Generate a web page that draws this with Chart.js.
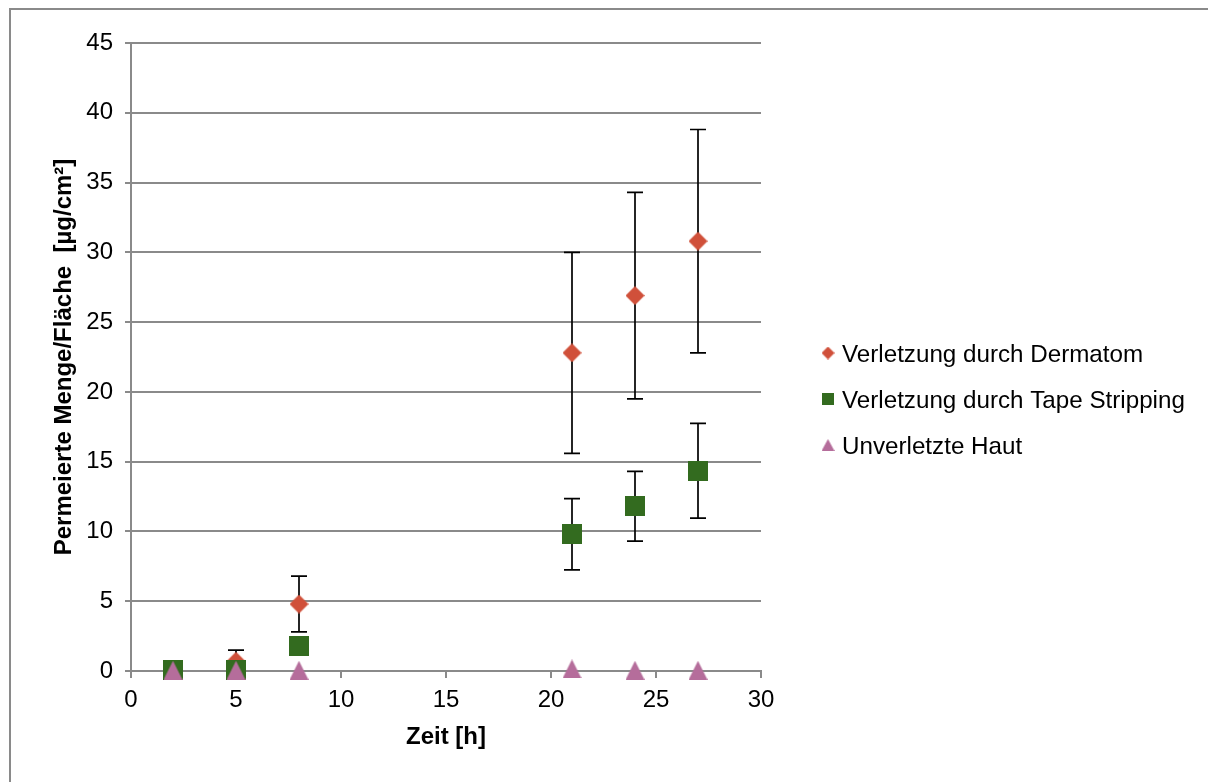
<!DOCTYPE html>
<html>
<head>
<meta charset="utf-8">
<script src="https://cdn.jsdelivr.net/npm/chart.js@4.4.1/dist/chart.umd.min.js"></script>
<style>
  html, body { margin: 0; padding: 0; background: #fff; overflow: hidden; }
  #frame { position: absolute; left: 9px; top: 8px; width: 1300px; height: 900px; border: 2px solid #8a8a8a; }
  #chart { position: absolute; left: 0; top: 0; }
</style>
</head>
<body>
<div id="frame"></div>
<canvas id="chart" width="1208" height="782"></canvas>
<script>
// Zeit in Stunden
const times = [2, 5, 8, 21, 24, 27];

// Mittelwerte und Standardabweichungen [µg/cm²]
const dermatomMean = [0.1, 0.7, 4.8, 22.8, 26.9, 30.8];
const dermatomErr = [0.1, 0.8, 2.0, 7.2, 7.4, 8.0];
const tapeMean = [0.05, 0.1, 1.8, 9.8, 11.8, 14.35];
const tapeErr = [0.05, 0.1, 0.4, 2.55, 2.5, 3.4];
const intactMean = [0.05, 0.05, 0.05, 0.15, 0.05, 0.05];
const intactErr = [0, 0, 0, 0, 0, 0];

const seriesNames = ["Verletzung durch Dermatom", "Verletzung durch Tape Stripping", "Unverletzte Haut"];
const colors = ["#D0503A", "#336B1F", "#B56D9B"];

const FONT = "'Liberation Sans', Arial, sans-serif";
const GRID = "#8a8a8a";

function marker(shape, w, h, color) {
  const c = document.createElement("canvas");
  c.width = w;
  c.height = h;
  const g = c.getContext("2d");
  g.fillStyle = color;
  g.beginPath();
  if (shape === "diamond") {
    g.moveTo(w / 2, 0); g.lineTo(w, h / 2); g.lineTo(w / 2, h); g.lineTo(0, h / 2);
  } else if (shape === "triangle") {
    g.moveTo(w / 2, 0); g.lineTo(w, h); g.lineTo(0, h);
  } else {
    g.rect(0, 0, w, h);
  }
  g.closePath();
  g.fill();
  return c;
}

const pointImgs = [
  marker("diamond", 19, 19, colors[0]),
  marker("square", 20, 20, colors[1]),
  marker("triangle", 19, 19, colors[2])
];
const legendImgs = [
  marker("diamond", 13, 13, colors[0]),
  marker("square", 12, 12, colors[1]),
  marker("triangle", 13, 12, colors[2])
];

const toPoints = (ys) => times.map((t, i) => ({ x: t, y: ys[i] }));
const errors = [dermatomErr, tapeErr, intactErr];

const errorBars = {
  id: "errorBars",
  beforeDatasetsDraw(chart) {
    const ctx = chart.ctx;
    const xs = chart.scales.x, ys = chart.scales.y;
    ctx.save();
    ctx.strokeStyle = "#000";
    ctx.lineWidth = 1.7;
    chart.data.datasets.forEach((ds, d) => {
      ds.data.forEach((p, i) => {
        const e = errors[d][i];
        if (!e) return;
        const x = xs.getPixelForValue(p.x);
        const top = ys.getPixelForValue(p.y + e);
        const bot = ys.getPixelForValue(p.y - e);
        ctx.beginPath();
        ctx.moveTo(x, top); ctx.lineTo(x, bot);
        ctx.moveTo(x - 8, top); ctx.lineTo(x + 8, top);
        ctx.moveTo(x - 8, bot); ctx.lineTo(x + 8, bot);
        ctx.stroke();
      });
    });
    ctx.restore();
  }
};

const sideLegend = {
  id: "sideLegend",
  afterDraw(chart) {
    const ctx = chart.ctx;
    ctx.save();
    ctx.font = "24.2px " + FONT;
    ctx.fillStyle = "#000";
    ctx.textBaseline = "alphabetic";
    const rows = [353, 399, 445];
    seriesNames.forEach((name, i) => {
      const img = legendImgs[i];
      ctx.drawImage(img, 828 - img.width / 2, rows[i] - img.height / 2);
      ctx.fillText(name, 842, rows[i] + 8.5);
    });
    ctx.restore();
  }
};

Chart.defaults.font.family = FONT;
Chart.defaults.color = "#000";

new Chart(document.getElementById("chart"), {
  type: "scatter",
  data: {
    datasets: [
      { label: seriesNames[0], data: toPoints(dermatomMean), pointStyle: pointImgs[0], order: 3, clip: false },
      { label: seriesNames[1], data: toPoints(tapeMean), pointStyle: pointImgs[1], order: 2, clip: false },
      { label: seriesNames[2], data: toPoints(intactMean), pointStyle: pointImgs[2], order: 1, clip: false }
    ]
  },
  options: {
    responsive: false,
    animation: false,
    devicePixelRatio: 1,
    layout: { padding: { left: 0, top: 43, right: 447, bottom: 0 } },
    plugins: { legend: { display: false }, tooltip: { enabled: false } },
    scales: {
      x: {
        type: "linear",
        min: 0,
        max: 30,
        ticks: { stepSize: 5, font: { size: 24 }, padding: 8 },
        grid: { drawOnChartArea: false, drawTicks: true, tickLength: 7, color: GRID, lineWidth: 2 },
        border: { color: GRID, width: 2 },
        title: { display: true, text: "Zeit [h]", font: { size: 24, weight: "bold" }, padding: { top: 30, bottom: 30 } },
        afterFit(scale) { scale.height = 111; }
      },
      y: {
        min: 0,
        max: 45,
        ticks: { stepSize: 5, font: { size: 24 }, padding: 12 },
        grid: { tickLength: 6, color: GRID, lineWidth: 2 },
        border: { color: GRID, width: 2 },
        title: { display: true, text: "Permeierte Menge/Fläche  [µg/cm²]", font: { size: 24, weight: "bold" }, padding: { top: 50, bottom: 50 } },
        afterFit(scale) { scale.width = 131; }
      }
    }
  },
  plugins: [errorBars, sideLegend]
});
</script>
</body>
</html>
